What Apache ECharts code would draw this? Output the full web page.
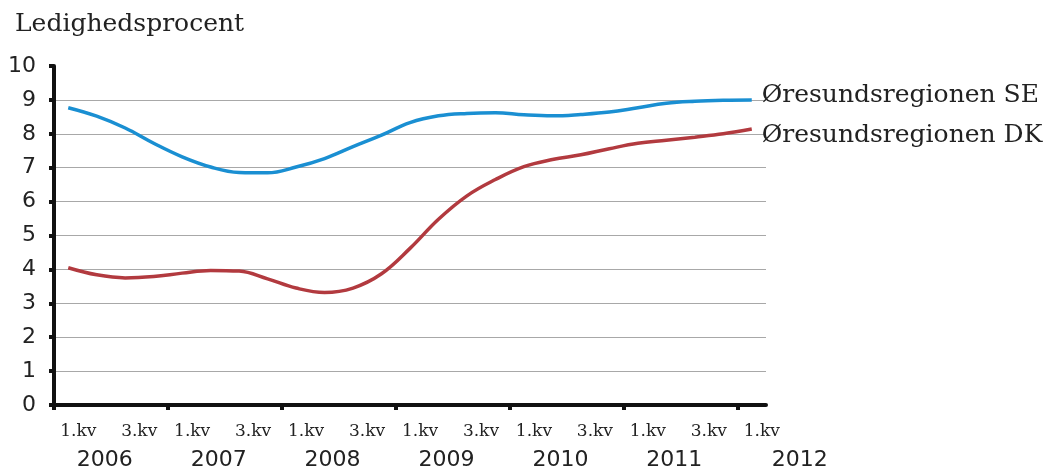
<!DOCTYPE html>
<html>
<head>
<meta charset="utf-8">
<style>
  html, body { margin: 0; padding: 0; background: #ffffff; }
  #chart { width: 1055px; height: 473px; }
</style>
<script src="https://cdn.jsdelivr.net/npm/echarts@6/dist/echarts.min.js"></script>
</head>
<body>
<div id="chart"></div>
<script>
// Quarterly unemployment rate (%), 1st quarter 2006 to 1st quarter 2012
const years = ['2006', '2007', '2008', '2009', '2010', '2011', '2012'];
const quarterNames = ['1.kv', '2.kv', '3.kv', '4.kv'];
const categories = [];
years.forEach(function (y, yi) {
  const n = yi === years.length - 1 ? 1 : 4;
  for (let q = 0; q < n; q++) categories.push(y + ' ' + quarterNames[q]);
});

const seriesNames = ['Øresundsregionen SE', 'Øresundsregionen DK'];
const valuesSE = [8.77, 8.52, 8.17, 7.72, 7.32, 7.02, 6.86, 6.85, 7.02, 7.27, 7.62, 7.96,
                  8.33, 8.53, 8.60, 8.62, 8.56, 8.53, 8.57, 8.64, 8.77, 8.90, 8.96, 8.99, 9.00];
const valuesDK = [4.05, 3.84, 3.75, 3.79, 3.89, 3.97, 3.95, 3.72, 3.45, 3.32, 3.45, 3.87,
                  4.62, 5.48, 6.17, 6.65, 7.03, 7.24, 7.38, 7.56, 7.72, 7.81, 7.90, 8.00, 8.14];

const yTitle = 'Ledighedsprocent';
const colorSE = '#1a8fd2';
const colorDK = '#b23a3f';
const textColor = '#222222';
const serif = '"DejaVu Serif", "Liberation Serif", serif';
const sans = '"DejaVu Sans", "Liberation Sans", sans-serif';

// year boundaries: left edge of every 1st-quarter band
const yearStarts = [];
categories.forEach(function (c, i) { if (c.endsWith(quarterNames[0])) yearStarts.push(i); });

const chart = echarts.init(document.getElementById('chart'), null, { renderer: 'canvas' });

chart.setOption({
  backgroundColor: '#ffffff',
  animation: false,
  title: {
    text: yTitle,
    left: 10,
    top: 7,
    textStyle: { fontFamily: serif, fontSize: 25, fontWeight: 'normal', color: textColor }
  },
  grid: { left: 54, right: 289, top: 66, bottom: 68, containLabel: false },
  xAxis: [
    {
      // quarter labels
      type: 'category',
      data: categories,
      boundaryGap: true,
      axisLine: { show: false },
      axisTick: { show: false },
      splitLine: { show: false },
      axisLabel: {
        interval: 0,
        margin: 18,
        fontFamily: serif,
        fontSize: 17,
        color: textColor,
        formatter: function (v, i) {
          if (i % 4 === 0) return '{a|' + quarterNames[0] + '}';
          if (i % 4 === 2) return '{b|' + quarterNames[2] + '}';
          return '';
        },
        rich: {
          a: { fontFamily: serif, fontSize: 17, color: textColor, padding: [0, 0, 0, 20] },
          b: { fontFamily: serif, fontSize: 17, color: textColor, padding: [0, 0, 0, 28] }
        }
      }
    },
    {
      // year labels
      type: 'category',
      data: categories,
      boundaryGap: true,
      position: 'bottom',
      gridIndex: 0,
      axisLine: { show: false },
      axisTick: { show: false },
      splitLine: { show: false },
      axisLabel: {
        interval: 0,
        margin: 44,
        formatter: function (v, i) {
          if (i % 4 === 1) return '{y|' + v.split(' ')[0] + '}';
          if (i === categories.length - 1) return '{z|' + v.split(' ')[0] + '}';
          return '';
        },
        rich: {
          y: { fontFamily: sans, fontSize: 22, color: textColor, padding: [0, 0, 0, 16] },
          z: { fontFamily: sans, fontSize: 22, color: textColor, padding: [0, 0, 0, 96] }
        }
      }
    },
    {
      // axis line with year ticks
      type: 'value',
      min: 0,
      max: categories.length,
      position: 'bottom',
      gridIndex: 0,
      axisLine: { show: true, onZero: false, lineStyle: { color: '#111', width: 4 } },
      axisTick: { show: true, customValues: yearStarts, length: 5, lineStyle: { color: '#111', width: 4 } },
      axisLabel: { show: false },
      splitLine: { show: false }
    }
  ],
  yAxis: {
    type: 'value',
    min: 0,
    max: 10,
    interval: 1,
    axisLine: { show: true, lineStyle: { color: '#111', width: 4 } },
    axisTick: { show: true, length: 5, lineStyle: { color: '#111', width: 4 } },
    splitLine: { show: true, showMinLine: false, showMaxLine: false, lineStyle: { color: '#a8a8a8', width: 1.2 } },
    axisLabel: { margin: 18, fontFamily: sans, fontSize: 22, color: textColor }
  },
  series: [
    {
      name: seriesNames[0],
      type: 'line',
      xAxisIndex: 0,
      data: valuesSE,
      smooth: 0.4,
      symbol: 'none',
      lineStyle: { color: colorSE, width: 3.5 },
      itemStyle: { color: colorSE },
      endLabel: {
        show: true,
        formatter: '{a}',
        distance: 10,
        offset: [0, -4],
        fontFamily: serif,
        fontSize: 25,
        color: textColor
      }
    },
    {
      name: seriesNames[1],
      type: 'line',
      xAxisIndex: 0,
      data: valuesDK,
      smooth: 0.4,
      symbol: 'none',
      lineStyle: { color: colorDK, width: 3.5 },
      itemStyle: { color: colorDK },
      endLabel: {
        show: true,
        formatter: '{a}',
        distance: 10,
        offset: [0, 6],
        fontFamily: serif,
        fontSize: 25,
        color: textColor
      }
    }
  ]
});
</script>
</body>
</html>
